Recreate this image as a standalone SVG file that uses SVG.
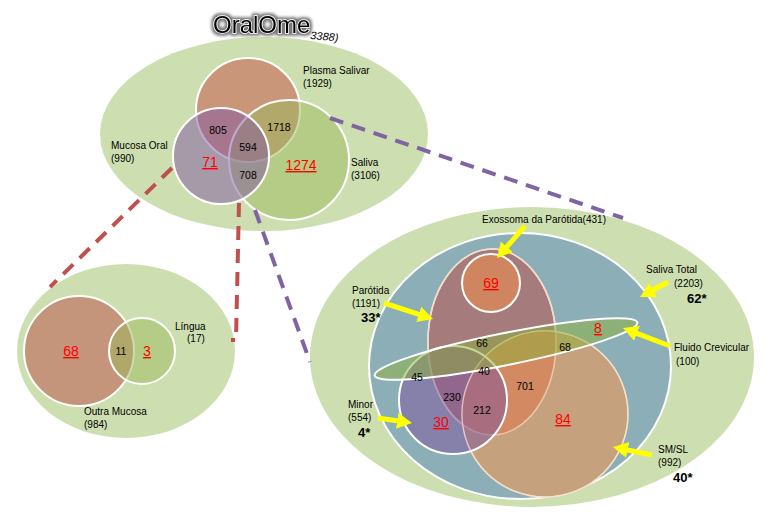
<svg xmlns="http://www.w3.org/2000/svg" width="767" height="518" viewBox="0 0 767 518">
<defs>
<style>
text{font-family:"Liberation Sans",Arial,sans-serif;fill:#000;}
.lbl{font-size:10px;}
.num{font-size:10.5px;text-anchor:middle;}
.red{font-size:14px;text-anchor:middle;fill:#ff0000;text-decoration:underline;}
.star{font-size:13px;font-weight:bold;}
.bg{fill:#cddfb0;}
.wst{stroke:#fff;stroke-width:2;}
.dash{fill:none;stroke-width:4;stroke-dasharray:14 9;}
.yarrow{stroke:#ffff00;stroke-width:5;fill:none;marker-end:url(#yh);}
</style>
<marker id="yh" markerUnits="userSpaceOnUse" markerWidth="16" markerHeight="18" refX="5" refY="9" orient="auto">
<path d="M0,1 L15,9 L0,17 Z" fill="#ffff00"/>
</marker>
<filter id="glow" x="-20%" y="-50%" width="140%" height="200%">
<feMorphology in="SourceAlpha" operator="dilate" radius="1.5" result="d"/>
<feGaussianBlur in="d" stdDeviation="1.6" result="b"/>
<feFlood flood-color="#777"/>
<feComposite in2="b" operator="in" result="s"/>
<feMerge><feMergeNode in="s"/><feMergeNode in="SourceGraphic"/></feMerge>
</filter>
<clipPath id="parClip"><ellipse cx="492" cy="342" rx="64" ry="93"/></clipPath>
</defs>

<g id="oralome">
<ellipse class="bg" cx="264" cy="134" rx="164" ry="97"/>
<text x="213" y="33" font-size="24" fill="#111" stroke="#fff" stroke-width="1.5" paint-order="stroke" filter="url(#glow)">OralOme</text>
<text x="310" y="39" font-size="11" font-style="italic" transform="rotate(5 310 39)">3388)</text>
</g>

<g id="plasma-salivar">
<circle cx="248" cy="110" r="52" fill="#c9967a" class="wst"/>
<text class="lbl" x="303" y="74">Plasma Salivar</text>
<text class="lbl" x="303" y="87">(1929)</text>
</g>
<g id="saliva">
<circle cx="289" cy="160" r="60" fill="rgb(157,185,92)" fill-opacity="0.5" class="wst"/>
<text class="lbl" x="351" y="166">Saliva</text>
<text class="lbl" x="351" y="179">(3106)</text>
</g>
<g id="mucosa-oral">
<circle cx="221" cy="156" r="48" fill="rgb(129,85,160)" fill-opacity="0.5" class="wst"/>
<text class="lbl" x="111" y="149">Mucosa Oral</text>
<text class="lbl" x="111" y="162">(990)</text>
</g>
<g id="top-numbers">
<text class="num" x="218" y="134">805</text>
<text class="num" x="279" y="131">1718</text>
<text class="num" x="248" y="151">594</text>
<text class="num" x="248" y="179">708</text>
<text class="red" x="210" y="167">71</text>
<text class="red" x="301" y="170">1274</text>
</g>

<g id="mucosa-detail">
<ellipse class="bg" cx="126" cy="351" rx="109" ry="87"/>
</g>
<g id="outra-mucosa">
<circle cx="79" cy="351" r="55" fill="#c4947b" class="wst"/>
<text class="lbl" x="84" y="415">Outra Mucosa</text>
<text class="lbl" x="84" y="428">(984)</text>
<text class="red" x="71" y="356">68</text>
</g>
<g id="lingua">
<circle cx="142" cy="351" r="33" fill="rgb(157,185,92)" fill-opacity="0.5" class="wst"/>
<text class="lbl" x="175" y="330">Língua</text>
<text class="lbl" x="187" y="342">(17)</text>
<text class="num" x="121" y="355">11</text>
<text class="red" x="147" y="356">3</text>
</g>

<g id="saliva-detail">
<ellipse class="bg" cx="532" cy="357" rx="222" ry="150"/>
</g>
<g id="saliva-total">
<ellipse cx="520" cy="366" rx="151" ry="133" fill="#8caeb6" class="wst"/>
<text class="lbl" x="646" y="273">Saliva Total</text>
<text class="lbl" x="674" y="287">(2203)</text>
<text class="star" x="687" y="303">62*</text>
</g>
<g id="parotida">
<ellipse cx="492" cy="342" rx="64" ry="93" fill="#a67b7c" stroke="#fff" stroke-width="1.5"/>
<text class="lbl" x="352" y="294">Parótida</text>
<text class="lbl" x="352" y="307">(1191)</text>
<text class="star" x="361" y="322">33*</text>
</g>
<g id="exossoma">
<circle cx="491" cy="283" r="29" fill="#cf8660" class="wst"/>
<text class="lbl" x="482" y="223">Exossoma da Parótida(431)</text>
<text class="red" x="491" y="288" font-size="13">69</text>
</g>
<g id="sm-sl">
<circle cx="545" cy="414" r="83" fill="#c6a17d" stroke="#f6dcc4" stroke-width="1.5"/>
<circle cx="545" cy="414" r="83" fill="#d38961" clip-path="url(#parClip)"/>
<ellipse cx="492" cy="342" rx="64" ry="93" fill="none" stroke="#f4d2ba" stroke-width="1.5" stroke-opacity="0.8"/>
<text class="lbl" x="658" y="453">SM/SL</text>
<text class="lbl" x="658" y="466">(992)</text>
<text class="star" x="673" y="482">40*</text>
</g>
<g id="minor">
<circle cx="453" cy="400" r="54" fill="rgb(126,83,158)" fill-opacity="0.5" class="wst"/>
<circle cx="545" cy="414" r="83" fill="none" stroke="#f6e2d0" stroke-width="1.2" stroke-opacity="0.7"/>
<text class="lbl" x="348" y="408">Minor</text>
<text class="lbl" x="348" y="421">(554)</text>
<text class="star" x="358" y="437">4*</text>
</g>
<g id="fluido-crevicular">
<ellipse cx="506" cy="349" rx="134" ry="16" transform="rotate(-11.4 506 349)" fill="rgb(140,177,58)" fill-opacity="0.5" class="wst"/>
<text class="lbl" x="674" y="351">Fluido Crevicular</text>
<text class="lbl" x="676" y="365">(100)</text>
<text class="red" x="598" y="333" font-size="13">8</text>
</g>
<g id="right-numbers">
<text class="num" x="482" y="347" font-size="10">66</text>
<text class="num" x="565" y="351" font-size="10">68</text>
<text class="num" x="417" y="381" font-size="10">45</text>
<text class="num" x="484" y="375" font-size="10">40</text>
<text class="num" x="525" y="390" font-size="12">701</text>
<text class="num" x="452" y="401" font-size="11">230</text>
<text class="num" x="482" y="414" font-size="12">212</text>
<text class="red" x="441" y="427" font-size="13">30</text>
<text class="red" x="563" y="424" font-size="13">84</text>
</g>

<g id="connectors">
<path class="dash" stroke="#c0504d" d="M172,168 L50,287"/>
<path class="dash" stroke="#c0504d" d="M239,203 L236,340 L231,340"/>
<path class="dash" stroke="#8064a2" d="M330,118 L623,218"/>
<path class="dash" stroke="#8064a2" d="M255,210 L310,362"/>
<line class="yarrow" x1="525" y1="226" x2="503.6" y2="250.5"/>
<line class="yarrow" x1="384" y1="303" x2="423.5" y2="315.9"/>
<line class="yarrow" x1="668" y1="282" x2="648.8" y2="292.3"/>
<line class="yarrow" x1="670" y1="346" x2="632.3" y2="331.6"/>
<line class="yarrow" x1="378" y1="418" x2="402.1" y2="421.5"/>
<line class="yarrow" x1="652" y1="455" x2="622.8" y2="449"/>
</g>
</svg>
